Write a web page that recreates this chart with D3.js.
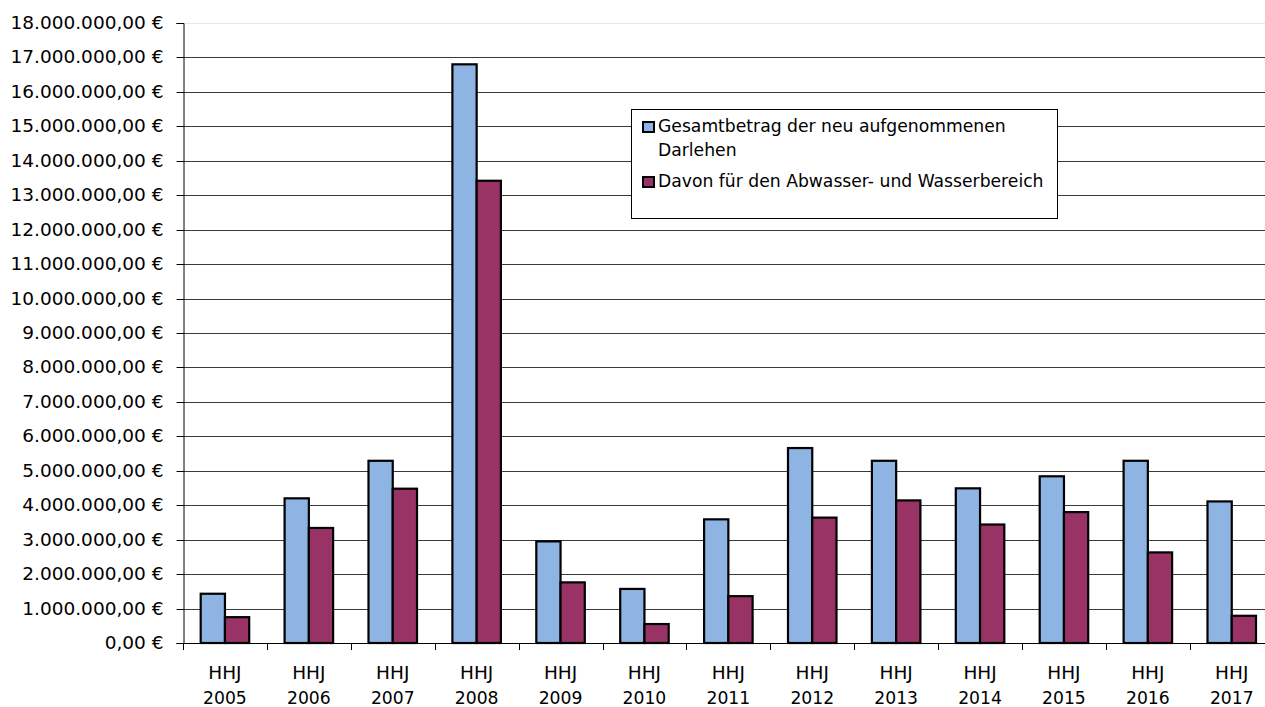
<!DOCTYPE html>
<html>
<head>
<meta charset="utf-8">
<script src="https://cdn.jsdelivr.net/npm/d3@7"></script>
<style>
  body { margin: 0; background: #fff; }
  text { font-family: "DejaVu Sans", sans-serif; fill: #000; }
</style>
</head>
<body>
<svg id="chart" width="1265" height="707"></svg>
<script>
// data
const years = ["2005", "2006", "2007", "2008", "2009", "2010", "2011", "2012", "2013", "2014", "2015", "2016", "2017"];
const gesamt = [1430000, 4200000, 5290000, 16800000, 2950000, 1570000, 3590000, 5660000, 5290000, 4490000, 4840000, 5290000, 4110000];
const abwasser = [750000, 3340000, 4480000, 13420000, 1760000, 550000, 1360000, 3640000, 4140000, 3440000, 3800000, 2630000, 790000];
const seriesNames = ["Gesamtbetrag der neu aufgenommenen Darlehen", "Davon für den Abwasser- und Wasserbereich"];
const seriesColors = ["#8EB4E3", "#993366"];
const yTicks = d3.range(0, 18000001, 1000000);

const svg = d3.select("#chart");
const plotLeft = 183, plotBottom = 643, plotTop = 23;
const catWidth = 83.9;
const fontSize = "17.2px";

const y = d3.scaleLinear().domain([0, 18000000]).range([plotBottom, plotTop]);
const x0 = d3.scaleBand().domain(years).range([plotLeft, plotLeft + catWidth * years.length]).padding(0);
const x1 = d3.scaleBand().domain([0, 1]).range([17.7, catWidth - 17.7]).padding(0);

const de = d3.formatLocale({ decimal: ",", thousands: ".", grouping: [3], currency: ["", " €"] });
const fmt = de.format("$,.2f");

// gridlines
svg.append("g")
    .selectAll("line")
    .data(yTicks.filter(d => d > 0))
    .enter().append("line")
    .attr("x1", plotLeft).attr("x2", 1265)
    .attr("y1", d => Math.round(y(d)) + 0.5)
    .attr("y2", d => Math.round(y(d)) + 0.5)
    .attr("stroke", d => d === 18000000 ? "#e6e6e6" : "#3a3a3a")
    .attr("stroke-width", 1);

// y axis
const yAxis = svg.append("g")
    .attr("transform", `translate(${plotLeft + 0.5},0)`)
    .call(d3.axisLeft(y).tickValues(yTicks).tickFormat(fmt).tickSize(7).tickPadding(13));
yAxis.select(".domain").attr("stroke", "#000");
yAxis.selectAll(".tick line").attr("stroke", "#000");
yAxis.selectAll(".tick text")
    .style("font-family", '"DejaVu Sans", sans-serif')
    .style("font-size", "18.5px")
    .attr("fill", "#000");
yAxis.selectAll(".tick").attr("transform", d => `translate(0,${Math.round(y(d)) + 0.5})`);

// bars
const groups = svg.append("g")
    .selectAll("g")
    .data(years)
    .enter().append("g")
    .attr("transform", d => `translate(${x0(d)},0)`);

groups.selectAll("rect")
    .data((d, i) => [gesamt[i], abwasser[i]])
    .enter().append("rect")
    .attr("x", (d, j) => x1(j))
    .attr("y", d => y(d))
    .attr("width", x1.bandwidth())
    .attr("height", d => plotBottom - y(d))
    .attr("fill", (d, j) => seriesColors[j])
    .attr("stroke", "#000")
    .attr("stroke-width", 2.2);

// x axis line and ticks
svg.append("line")
    .attr("x1", plotLeft).attr("x2", 1265)
    .attr("y1", plotBottom + 0.5).attr("y2", plotBottom + 0.5)
    .attr("stroke", "#000");
svg.append("g")
    .selectAll("line")
    .data(years.concat(["end"]))
    .enter().append("line")
    .attr("x1", (d, i) => Math.round(plotLeft + i * catWidth) + 0.5)
    .attr("x2", (d, i) => Math.round(plotLeft + i * catWidth) + 0.5)
    .attr("y1", plotBottom).attr("y2", plotBottom + 7)
    .attr("stroke", "#000");

// category labels
const labels = svg.append("g")
    .selectAll("text")
    .data(years)
    .enter().append("text")
    .attr("text-anchor", "middle")
    .style("font-size", fontSize);
labels.append("tspan")
    .attr("x", d => x0(d) + catWidth / 2)
    .attr("y", 679)
    .style("font-size", "18.5px")
    .text("HHJ");
labels.append("tspan")
    .attr("x", d => x0(d) + catWidth / 2)
    .attr("y", 704)
    .text(d => d);

// legend
const legend = svg.append("g");
legend.append("rect")
    .attr("x", 631.5).attr("y", 109.5)
    .attr("width", 426).attr("height", 109)
    .attr("fill", "#fff").attr("stroke", "#000");
const legendRows = [
    { lines: ["Gesamtbetrag der neu aufgenommenen", "Darlehen"], y: 132 },
    { lines: ["Davon für den Abwasser- und Wasserbereich"], y: 187 }
];
legendRows.forEach((row, i) => {
    legend.append("rect")
        .attr("x", 643).attr("y", row.y - 10)
        .attr("width", 11).attr("height", 10)
        .attr("fill", seriesColors[i])
        .attr("stroke", "#000").attr("stroke-width", 2);
    const t = legend.append("text").style("font-size", fontSize);
    row.lines.forEach((l, k) => {
        t.append("tspan").attr("x", 658).attr("y", row.y + k * 23.5).text(l);
    });
});
</script>
</body>
</html>
